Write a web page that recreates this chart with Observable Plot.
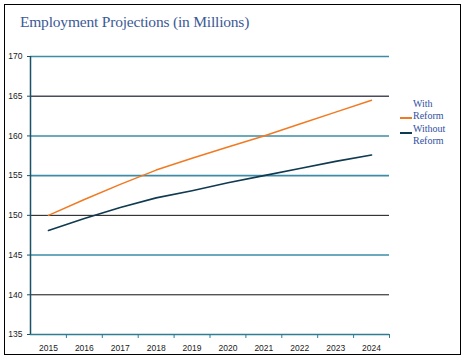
<!DOCTYPE html>
<html><head><meta charset="utf-8">
<script src="https://cdn.jsdelivr.net/npm/d3@7"></script>
<script src="https://cdn.jsdelivr.net/npm/@observablehq/plot@0.6"></script>
<style>
body{margin:0;width:465px;height:360px;overflow:hidden;background:#fff;position:relative;}
#frame{position:absolute;left:4px;top:4px;width:455px;height:349px;border:1px solid #000;}
#title{position:absolute;left:20px;top:14px;font-family:"Liberation Serif";font-size:15.5px;line-height:1;color:#3c5a96;letter-spacing:-0.2px;white-space:nowrap;}
#chart{position:absolute;left:0;top:0;}
.leg{position:absolute;left:413px;font-family:"Liberation Serif";font-size:10px;line-height:12px;color:#2f4f9f;white-space:nowrap;}
.sw{position:absolute;left:400px;width:12px;height:2px;}
</style></head>
<body>
<div id="frame"></div>
<div id="chart"></div>
<div id="title">Employment Projections (in Millions)</div>
<div class="leg" style="top:97.6px">With<br>Reform</div>
<div class="sw" style="top:116.7px;background:#f07a22"></div>
<div class="leg" style="top:122.6px">Without<br>Reform</div>
<div class="sw" style="top:131.7px;background:#0f3a50"></div>
<script>
const years = [2015, 2016, 2017, 2018, 2019, 2020, 2021, 2022, 2023, 2024];
const withReform = [150.0, 152.0, 153.9, 155.7, 157.2, 158.6, 160.0, 161.5, 163.0, 164.5];
const withoutReform = [148.1, 149.6, 151.0, 152.2, 153.1, 154.1, 155.0, 155.9, 156.8, 157.6];
const yTicks = [135, 140, 145, 150, 155, 160, 165, 170];

const withData = years.map((y, i) => ({year: y, value: withReform[i]}));
const withoutData = years.map((y, i) => ({year: y, value: withoutReform[i]}));
const bounds = years.map(y => y + 0.5);
const darkGrid = [140, 150];
const grayGrid = [165];
const tealGrid = yTicks.filter(v => v > yTicks[0] && !darkGrid.includes(v) && !grayGrid.includes(v));

const chart = Plot.plot({
  width: 465,
  height: 360,
  marginLeft: 30,
  marginRight: 76,
  marginTop: 56,
  marginBottom: 26,
  style: {fontFamily: "Liberation Sans, Arial, sans-serif", fontSize: "8.5px", background: "transparent", color: "#1a1a1a"},
  x: {domain: [years[0] - 0.5, years[years.length - 1] + 0.5]},
  y: {domain: [yTicks[0], yTicks[yTicks.length - 1]]},
  marks: [
    Plot.ruleY(tealGrid, {stroke: "#3d8ca6", strokeWidth: 1.6}),
    Plot.ruleY(grayGrid, {stroke: "#4b4b5e", strokeWidth: 1.6}),
    Plot.ruleY(darkGrid, {stroke: "#111", strokeWidth: 1}),
    Plot.ruleY([yTicks[0]], {stroke: "#2e7d93", strokeWidth: 1.5}),
    Plot.ruleX([years[0] - 0.5], {stroke: "#1a5068", strokeWidth: 1.5}),
    Plot.line(withData, {x: "year", y: "value", stroke: "#f07a22", strokeWidth: 1.5}),
    Plot.line(withoutData, {x: "year", y: "value", stroke: "#0f3a50", strokeWidth: 1.6}),
    Plot.axisY(yTicks, {tickSize: 3, tickPadding: 5, stroke: "#1a5068", fill: "#1a1a1a", label: null}),
    Plot.axisX(years, {tickSize: 0, tickPadding: 10, tickFormat: d => String(d), fill: "#1a1a1a", label: null}),
    Plot.axisX(bounds, {tickSize: 4, tickFormat: () => "", stroke: "#2e7d93", label: null})
  ]
});
document.getElementById("chart").appendChild(chart);
</script>
</body></html>
